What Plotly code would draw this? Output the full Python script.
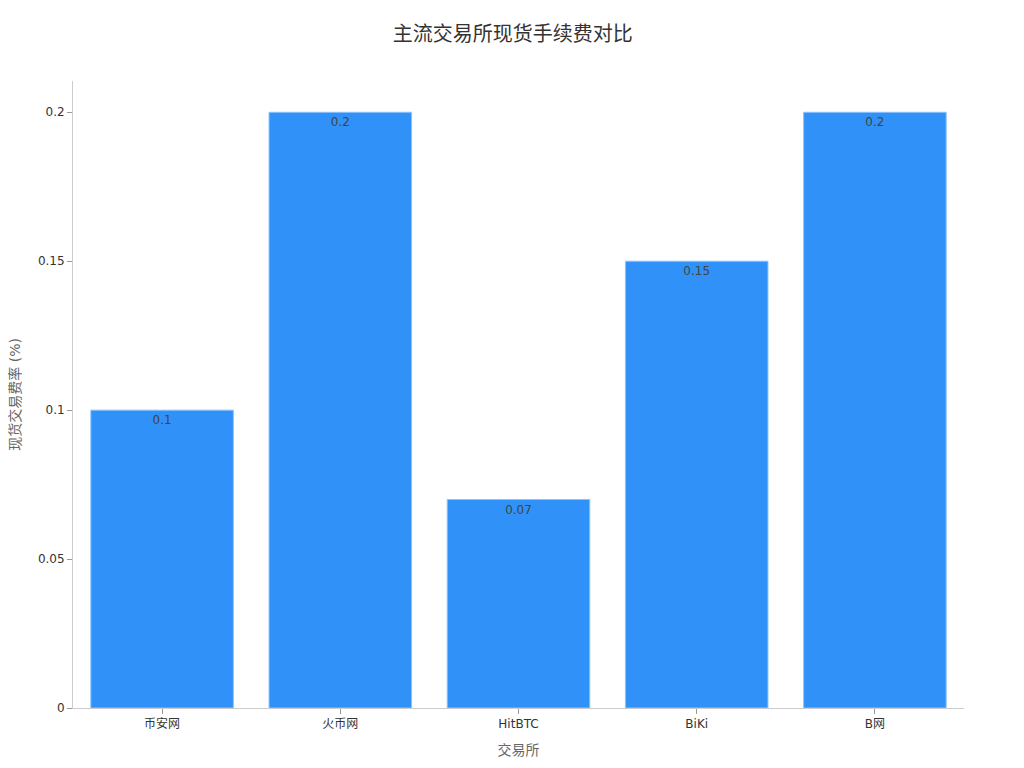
import plotly.graph_objects as go

exchanges = ['币安网', '火币网', 'HitBTC', 'BiKi', 'B网']
fee_rates = [0.1, 0.2, 0.07, 0.15, 0.2]
fee_labels = ['0.1', '0.2', '0.07', '0.15', '0.2']

font_family = 'DejaVu Sans, Noto Sans CJK SC, sans-serif'

fig = go.Figure(go.Bar(
    x=exchanges,
    y=fee_rates,
    text=fee_labels,
    textposition='inside',
    insidetextanchor='end',
    textfont=dict(size=12, color='#444444'),
    marker=dict(color='#3092F8', line=dict(color='#8cc3fb', width=1)),
))

# page has a small body offset, margins compensate for it
fig.update_layout(
    title=dict(text='主流交易所现货手续费对比', x=0.493, xanchor='center', y=0.975,
               font=dict(size=20, color='#333333')),
    font=dict(family=font_family, size=12, color='#333333'),
    plot_bgcolor='white',
    paper_bgcolor='white',
    width=1024, height=768,
    margin=dict(l=65, r=68, t=73, b=68),
    bargap=0.2,
    showlegend=False,
)
# y title as annotation so it sits closer to the page edge
fig.add_annotation(
    text='现货交易费率 (%)', xref='paper', yref='paper', x=-0.066, y=0.5,
    xanchor='center', yanchor='middle', textangle=-90, showarrow=False,
    font=dict(size=14, color='#666666'),
)
fig.update_xaxes(
    title=dict(text='交易所', font=dict(size=14, color='#666666'), standoff=14),
    showline=True, linecolor='#cccccc', linewidth=1,
    ticks='outside', ticklen=5, tickcolor='#999999',
    showgrid=False, tickfont=dict(size=12, color='#333333'),
)
fig.update_yaxes(
    range=[0, 0.2105],
    tickvals=[0, 0.05, 0.1, 0.15, 0.2],
    ticktext=['0', '0.05', '0.1', '0.15', '0.2'],
    showline=True, linecolor='#cccccc', linewidth=1,
    ticks='outside', ticklen=5, tickcolor='#999999',
    showgrid=False, zeroline=False, tickfont=dict(size=12, color='#333333'),
)

fig.write_html('out.html')
